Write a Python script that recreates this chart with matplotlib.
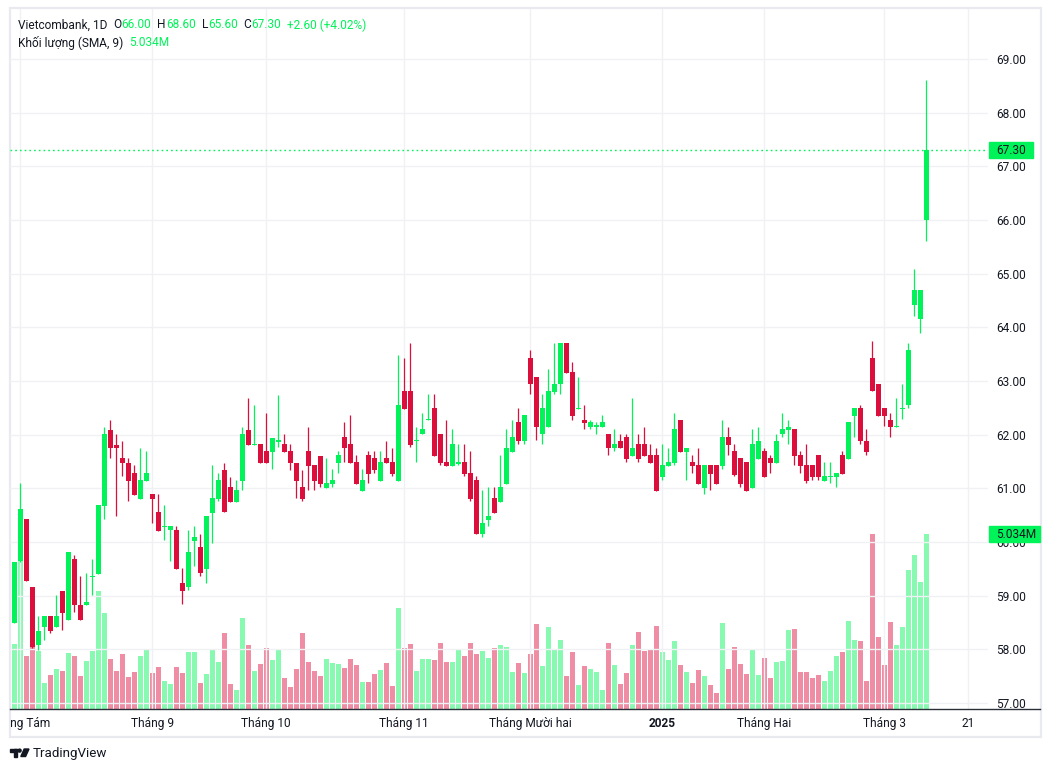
import matplotlib
matplotlib.use('Agg')
import matplotlib.pyplot as plt
import matplotlib.patches as mpatches
from matplotlib.lines import Line2D
from matplotlib.transforms import Bbox, TransformedBbox, IdentityTransform
import numpy as np
import pandas as pd

W, H = 1051, 772

# VCB daily candles, 31.07.2024 .. 12.03.2025
opens = [58.49, 59.65, 60.43, 59.17, 58.08, 58.41, 58.63, 58.41, 59.09, 58.54,
         59.69, 58.83, 58.82, 59.34, 59.41, 60.67, 62.09, 61.81, 61.56, 61.48,
         61.28, 60.80, 61.14, 60.89, 60.56, 60.28, 60.22, 60.23, 59.23, 59.16,
         60.01, 59.90, 59.50, 60.54, 60.80, 61.35, 61.02, 60.75, 61.14, 62.09,
         61.80, 61.82, 61.69, 61.67, 61.87, 61.82, 61.69, 61.48, 61.02, 61.69,
         61.43, 61.61, 61.01, 61.08, 61.47, 61.95, 61.82, 61.49, 60.95, 61.62,
         61.56, 61.14, 61.56, 61.49, 61.14, 62.82, 62.82, 61.88, 62.01, 62.27,
         62.49, 62.02, 61.49, 61.42, 61.46, 61.49, 61.28, 61.15, 60.14, 60.41,
         60.82, 60.75, 61.08, 61.68, 62.23, 61.88, 63.42, 63.08, 62.01, 62.14,
         62.80, 62.94, 63.70, 63.16, 62.47, 62.28, 62.14, 62.15, 62.14, 62.02,
         61.75, 61.89, 61.95, 61.60, 61.82, 61.82, 61.62, 61.62, 61.21, 61.42,
         61.47, 62.28, 61.68, 61.49, 61.43, 61.01, 61.43, 61.43, 61.42, 61.95,
         61.69, 61.56, 61.49, 61.01, 61.55, 61.69, 61.56, 61.47, 62.01, 62.09,
         62.10, 61.62, 61.43, 61.43, 61.62, 61.14, 61.21, 61.21, 61.62, 61.55,
         62.35, 62.49, 61.89, 63.42, 62.95, 62.49, 62.28, 62.14, 62.47, 62.55,
         64.41, 64.15, 66.00]
highs = [59.62, 61.10, 60.43, 59.17, 58.63, 58.63, 58.63, 59.02, 59.09, 59.81,
         59.76, 59.36, 59.43, 59.69, 60.69, 62.15, 62.28, 62.02, 61.89, 61.56,
         61.43, 61.76, 61.69, 60.89, 60.89, 60.69, 60.30, 60.30, 59.51, 60.23,
         60.30, 60.15, 60.49, 61.43, 61.28, 61.48, 61.22, 61.15, 62.15, 62.68,
         62.55, 61.82, 62.41, 61.94, 62.74, 62.02, 61.82, 61.48, 61.35, 62.15,
         61.43, 61.61, 61.56, 61.36, 61.69, 62.23, 62.36, 61.62, 61.36, 61.69,
         61.69, 61.69, 61.89, 61.76, 63.49, 63.42, 63.70, 62.15, 62.41, 62.75,
         62.75, 62.02, 62.28, 62.10, 61.82, 61.82, 61.69, 61.23, 60.97, 61.02,
         61.02, 61.62, 62.10, 62.28, 62.49, 62.36, 63.57, 63.08, 62.75, 63.23,
         63.70, 63.70, 63.70, 63.36, 63.08, 62.56, 62.28, 62.23, 62.36, 62.02,
         62.10, 62.02, 62.02, 62.69, 62.02, 62.15, 61.82, 61.76, 61.82, 61.76,
         62.41, 62.28, 61.76, 61.62, 61.76, 61.43, 61.43, 61.43, 62.28, 62.15,
         61.82, 61.56, 61.49, 62.10, 62.15, 61.76, 61.62, 62.02, 62.41, 62.28,
         62.10, 61.69, 61.82, 61.43, 61.62, 61.49, 61.49, 61.28, 61.69, 62.23,
         62.49, 62.56, 62.10, 63.75, 62.95, 62.49, 62.41, 62.69, 62.95, 63.70,
         65.09, 64.70, 68.60]
lows = [58.49, 59.63, 59.28, 58.02, 57.98, 58.17, 58.31, 58.41, 58.36, 58.54,
        58.69, 58.54, 58.82, 59.02, 59.41, 60.43, 61.56, 60.49, 61.23, 60.77,
        60.88, 60.80, 61.14, 60.35, 60.21, 60.03, 59.64, 59.50, 58.84, 59.11,
        59.56, 59.36, 59.24, 59.98, 60.77, 60.55, 60.75, 60.75, 60.97, 61.80,
        61.80, 61.47, 61.47, 61.36, 61.77, 61.67, 61.35, 60.82, 60.77, 60.97,
        60.97, 61.03, 61.01, 61.03, 61.29, 61.49, 61.47, 61.08, 60.95, 61.10,
        61.29, 61.14, 61.47, 61.23, 61.14, 62.47, 61.77, 61.49, 62.01, 62.27,
        61.60, 61.44, 61.42, 61.42, 61.44, 61.23, 60.77, 60.14, 60.10, 60.30,
        60.54, 60.75, 61.08, 61.68, 61.83, 61.83, 62.75, 61.90, 61.83, 62.14,
        62.75, 62.75, 63.15, 62.28, 62.47, 62.10, 62.10, 62.02, 62.14, 61.62,
        61.70, 61.75, 61.49, 61.60, 61.49, 61.60, 61.47, 60.95, 61.16, 61.42,
        61.44, 61.68, 61.16, 61.29, 61.08, 60.90, 60.97, 61.08, 61.36, 61.62,
        61.23, 61.03, 60.95, 61.01, 61.55, 61.21, 61.29, 61.47, 61.96, 61.83,
        61.44, 61.29, 61.10, 61.16, 61.16, 61.14, 61.10, 61.03, 61.27, 61.55,
        61.96, 61.83, 61.62, 62.81, 62.35, 62.16, 61.96, 62.14, 62.29, 62.50,
        64.22, 63.89, 65.60]
closes = [59.62, 60.62, 59.28, 58.05, 58.35, 58.63, 58.34, 58.63, 58.67, 59.81,
          58.82, 58.54, 58.89, 59.36, 60.69, 62.02, 61.75, 61.75, 61.47, 61.14,
          60.88, 61.15, 61.28, 60.80, 60.21, 60.29, 60.30, 59.50, 59.09, 59.82,
          60.10, 59.42, 60.49, 60.82, 61.15, 60.55, 60.75, 60.97, 62.02, 61.80,
          61.82, 61.47, 61.47, 61.94, 61.89, 61.67, 61.47, 61.14, 60.81, 61.42,
          61.14, 61.08, 61.10, 61.15, 61.62, 61.75, 61.47, 61.08, 61.15, 61.27,
          61.34, 61.49, 61.47, 61.27, 62.56, 62.47, 61.81, 61.90, 62.10, 62.28,
          61.60, 61.47, 61.42, 61.82, 61.47, 61.27, 60.80, 60.14, 60.35, 60.48,
          60.54, 61.02, 61.76, 61.95, 61.88, 62.36, 62.94, 62.14, 62.49, 62.82,
          62.95, 63.70, 63.15, 62.34, 62.48, 62.21, 62.23, 62.16, 62.23, 61.75,
          61.82, 61.75, 61.54, 61.76, 61.54, 61.60, 61.47, 60.95, 61.43, 61.49,
          62.10, 61.68, 61.76, 61.42, 61.08, 61.43, 61.27, 61.08, 61.95, 61.81,
          61.25, 61.08, 60.95, 61.82, 61.89, 61.21, 61.47, 61.89, 62.10, 62.15,
          61.60, 61.42, 61.14, 61.21, 61.21, 61.23, 61.22, 61.28, 61.27, 62.23,
          62.49, 61.88, 61.68, 62.81, 62.35, 62.35, 62.14, 62.15, 62.48, 63.57,
          64.70, 64.70, 67.30]
# volume, million shares
volumes = [1.87, 4.26, 1.52, 1.81, 1.67, 0.75, 0.98, 1.15, 1.09, 1.61,
           1.52, 0.95, 1.38, 1.67, 3.39, 2.76, 1.44, 1.09, 1.58, 0.92,
           1.06, 1.52, 1.70, 1.04, 1.21, 0.81, 0.72, 1.21, 1.04, 1.64,
           1.64, 0.75, 1.01, 1.73, 1.35, 2.19, 0.72, 0.55, 2.62, 1.84,
           1.09, 1.29, 1.75, 1.41, 1.73, 0.89, 0.63, 1.15, 2.19, 1.35,
           1.09, 0.95, 1.44, 1.32, 1.29, 1.18, 1.44, 1.27, 0.78, 0.78,
           1.01, 1.12, 1.32, 0.66, 2.91, 1.75, 1.87, 1.09, 1.44, 1.44,
           1.41, 1.90, 1.35, 1.35, 1.73, 1.52, 1.90, 1.58, 1.67, 1.47,
           1.75, 1.84, 1.78, 1.06, 1.32, 1.04, 1.58, 2.45, 1.24, 2.36,
           1.73, 1.98, 0.95, 1.64, 0.69, 1.24, 1.15, 1.06, 0.55, 1.90,
           1.27, 0.72, 1.04, 1.84, 2.21, 1.67, 1.73, 2.39, 1.64, 1.41,
           1.96, 1.27, 1.06, 0.75, 1.12, 0.95, 0.69, 0.46, 2.47, 1.15,
           1.78, 1.29, 1.01, 1.70, 0.98, 1.47, 0.89, 1.35, 1.38, 2.27,
           2.30, 1.06, 1.06, 0.89, 0.98, 0.81, 1.09, 1.52, 1.64, 2.53,
           1.98, 1.96, 0.81, 5.03, 2.07, 1.27, 2.50, 1.84, 2.36, 4.00,
           4.43, 3.65, 5.034]

holidays = ['2024-09-02', '2024-09-03', '2025-01-01', '2025-01-27', '2025-01-28',
            '2025-01-29', '2025-01-30', '2025-01-31']
tick_dates = ['2024-08-01', '2024-09-04', '2024-10-01', '2024-11-01', '2024-12-02',
              '2025-01-02', '2025-02-03', '2025-03-03', '2025-03-21']
tick_labels = ['Tháng Tám', 'Tháng 9', 'Tháng 10', 'Tháng 11', 'Tháng Mười hai',
               '2025', 'Tháng Hai', 'Tháng 3', '21']
price_ticks = [57, 58, 59, 60, 61, 62, 63, 64, 65, 66, 67, 68, 69]

UP = '#00f359'
DOWN = '#dc0e3c'
TXT = '#131722'
GRID = '#f0f1f4'

plt.rcParams['font.family'] = ['Roboto', 'DejaVu Sans']

sessions = pd.bdate_range('2024-07-31', '2025-03-31', freq='C', holidays=holidays)
tick_pos = [sessions.get_loc(pd.Timestamp(d)) for d in tick_dates]

o = np.array(opens)
c = np.array(closes)
x = np.arange(len(c))
up = c >= o
colors = [UP if u else DOWN for u in up]

fig = plt.figure(figsize=(W / 100, H / 100), dpi=100)
# plot pane in pixels: left 10, right 988, top 9, bottom 709
ax = fig.add_axes([10 / W, (H - 709) / H, 978 / W, 700 / H])
ax2 = ax.twinx()
ax.set_zorder(ax2.get_zorder() + 1)
ax.patch.set_visible(False)

# volume
ax2.bar(x, volumes, width=0.83, color=colors, alpha=0.47, linewidth=0)
ax2.set_ylim(0, max(volumes) * 700 / 175)
ax2.set_yticks([])
for s in ax2.spines.values():
    s.set_visible(False)

# candles
body_lo = np.minimum(o, c)
body_h = np.maximum(np.abs(c - o), 0.025)
ax.vlines(x, lows, highs, colors=colors, linewidth=0.9, zorder=3)
ax.bar(x, body_h, bottom=body_lo, width=0.8, color=colors, linewidth=0, zorder=4)

ax.axhline(closes[-1], color=UP, linewidth=1.0, linestyle=(0, (1.2, 2.2)), zorder=2)

ax.set_xlim(-0.717, 162.28)
ax.set_ylim(56.888, 69.931)
ax.set_axisbelow(True)
ax.grid(True, color=GRID, linewidth=1.0)

ax.yaxis.tick_right()
ax.set_yticks(price_ticks, labels=['%.2f' % p for p in price_ticks])
ax.tick_params(axis='y', length=0, pad=6, labelsize=8.6, labelcolor=TXT)
ax.set_xticks(tick_pos, labels=tick_labels)
ax.tick_params(axis='x', length=0, pad=5.5, labelsize=8.6, labelcolor=TXT)
clip = TransformedBbox(Bbox.from_extents(10 / W, 0, 988 / W, 1), fig.transFigure)
for lbl in ax.get_xticklabels():
    lbl.set_clip_box(clip)
    lbl.set_clip_on(True)
    if lbl.get_text() == '2025':
        lbl.set_fontweight('bold')
for s in ax.spines.values():
    s.set_visible(False)

ident = IdentityTransform()


def px(xp, yp):
    return xp, H - yp


# outer frame and bottom line
fig.add_artist(mpatches.Rectangle(px(9.5, 737), 1031, 729, transform=ident,
                                  fill=False, edgecolor='#e9eaef', linewidth=1.6))
fig.add_artist(Line2D([10, 1040], [H - 709.3, H - 709.3], transform=ident,
                      color='#2a2e39', linewidth=1.0))

# price tags on the right scale
fig.canvas.draw()
renderer = fig.canvas.get_renderer()
y_last = ax.transData.transform((0, closes[-1]))[1]
fig.add_artist(mpatches.Rectangle((989, y_last - 8), 44, 16, transform=ident,
                                  color=UP, zorder=5))
fig.text(996, y_last, '%.2f' % closes[-1], transform=ident, ha='left', va='center',
         fontsize=8.6, color=TXT, zorder=6)
y_vol = ax2.transData.transform((0, volumes[-1]))[1]
fig.add_artist(mpatches.Rectangle((989, y_vol - 8), 51, 16, transform=ident,
                                  color=UP, zorder=5))
fig.text(996, y_vol, '%.3fM' % volumes[-1], transform=ident, ha='left', va='center',
         fontsize=8.6, color=TXT, zorder=6)


def legend_row(y, groups, fs=8.6, gap=6):
    xp = 18
    for parts in groups:
        for t, col in parts:
            tx = fig.text(*px(xp, y), t, transform=ident, ha='left', va='center',
                          fontsize=fs, color=col)
            xp += tx.get_window_extent(renderer).width
        xp += gap


chg = closes[-1] - closes[-2]
legend_row(25, [[('Vietcombank, 1D', TXT)],
                [('O', TXT), ('%.2f' % opens[-1], UP)],
                [('H', TXT), ('%.2f' % highs[-1], UP)],
                [('L', TXT), ('%.2f' % lows[-1], UP)],
                [('C', TXT), ('%.2f' % closes[-1], UP)],
                [('%+.2f (%+.2f%%)' % (chg, chg / closes[-2] * 100), UP)]])
legend_row(43, [[('Khối lượng (SMA, 9)', TXT)],
                [('%.3fM' % volumes[-1], UP)]])

# TradingView mark
fig.add_artist(mpatches.Rectangle(px(10, 751.5), 7, 2.5, transform=ident, color=TXT))
fig.add_artist(mpatches.Rectangle(px(14, 756.5), 3, 7.5, transform=ident, color=TXT))
fig.add_artist(mpatches.Circle(px(19.6, 750.6), 1.5, transform=ident, color=TXT))
fig.add_artist(mpatches.Polygon([px(20.8, 756.5), px(24.2, 749), px(29, 749), px(25.6, 756.5)],
                                closed=True, transform=ident, color=TXT))
fig.text(*px(33, 753), 'TradingView', transform=ident, ha='left', va='center',
         fontsize=9.6, color=TXT)

plt.savefig('out.png', dpi=100)
